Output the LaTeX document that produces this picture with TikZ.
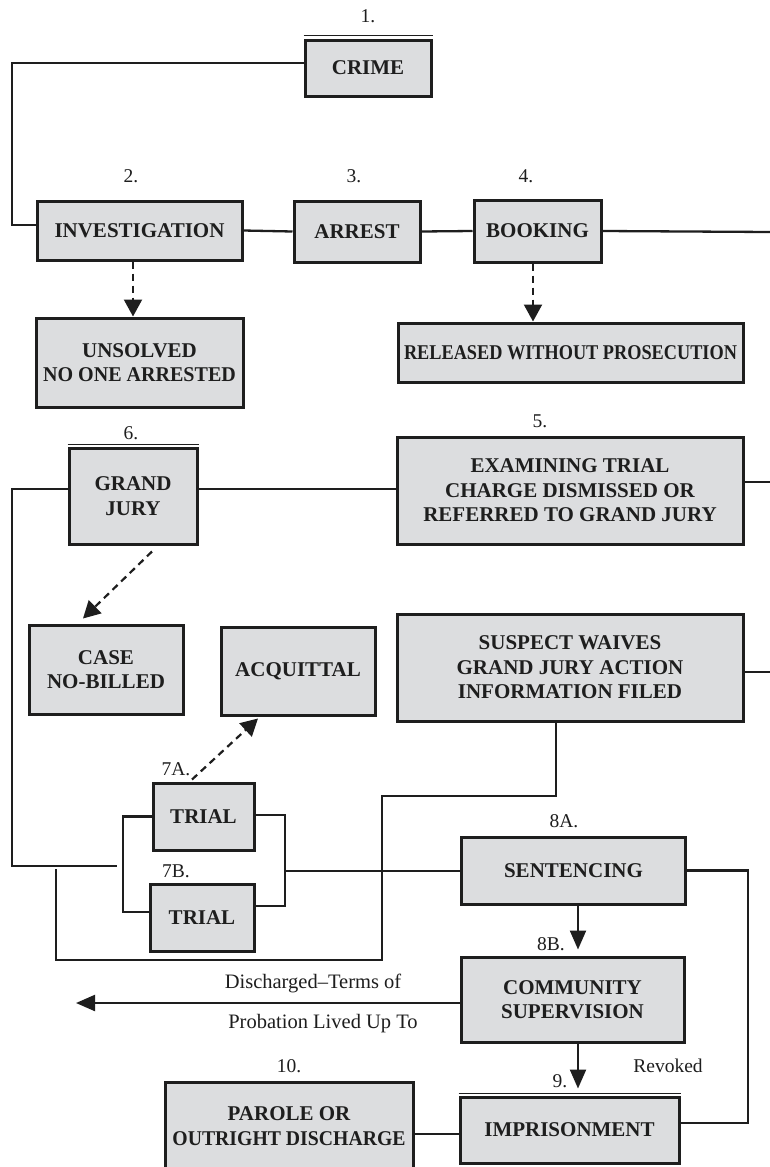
\documentclass[tikz,border=0pt]{standalone}
\usepackage{fontspec}
\setmainfont{Liberation Serif}
\usepackage{graphicx}
\usetikzlibrary{arrows.meta}
\definecolor{boxfill}{RGB}{220,221,223}
\definecolor{ink}{RGB}{30,30,30}
\tikzset{
  box/.style={draw=ink, line width=3pt, fill=boxfill, align=center, inner sep=0pt,
    font=\bfseries\fontsize{21}{24.5}\selectfont, text=ink},
  lab/.style={font=\fontsize{19.5}{22}\selectfont, inner sep=0pt, anchor=base, text=ink},
  conn/.style={draw=ink, line width=2.3pt},
  dasharrow/.style={draw=ink, line width=2.2pt, dash pattern=on 7pt off 5pt,
    -{Triangle[length=17pt,width=18pt]}},
  arr/.style={draw=ink, line width=2.2pt, -{Triangle[length=19pt,width=16pt]}},
  thinline/.style={draw=ink, line width=1pt}
}
\begin{document}
\begin{tikzpicture}[x=1pt,y=-1pt]
\useasboundingbox[fill=white] (0,0) rectangle (770,1167);

% boxes
\node[box, minimum width=126pt, minimum height=56pt] (crime) at (368,68) {CRIME};
\node[box, minimum width=205pt, minimum height=59pt] (invest) at (139.5,230.5) {INVESTIGATION};
\node[box, minimum width=126pt, minimum height=61pt] (arrest) at (357,231.5) {ARREST};
\node[box, minimum width=127pt, minimum height=62pt] (booking) at (537.5,231) {BOOKING};
\node[box, minimum width=207pt, minimum height=89pt] (unsolved) at (139.5,362.5) {UNSOLVED\\\scalebox{0.955}[1]{NO ONE ARRESTED}};
\node[box, minimum width=345pt, minimum height=59pt] (released) at (570.5,352.5) {\scalebox{0.87}[1]{RELEASED WITHOUT PROSECUTION}};
\node[box, minimum width=128pt, minimum height=96pt] (grand) at (133,496) {GRAND\\JURY};
\node[box, minimum width=346pt, minimum height=107pt] (exam) at (570,490.5) {EXAMINING TRIAL\\CHARGE DISMISSED OR\\REFERRED TO GRAND JURY};
\node[box, minimum width=154pt, minimum height=89pt] (case) at (106,669.5) {CASE\\NO-BILLED};
\node[box, minimum width=154pt, minimum height=88pt] (acq) at (298,671) {ACQUITTAL};
\node[box, minimum width=346pt, minimum height=107pt] (suspect) at (570,667.5) {SUSPECT WAIVES\\GRAND JURY ACTION\\INFORMATION FILED};
\node[box, minimum width=101pt, minimum height=67pt] (trialA) at (203.5,816.5) {TRIAL};
\node[box, minimum width=104pt, minimum height=67pt] (trialB) at (202,917.5) {TRIAL};
\node[box, minimum width=224pt, minimum height=67pt] (sent) at (573.5,870.5) {SENTENCING};
\node[box, minimum width=223pt, minimum height=85pt] (comm) at (572.5,999.5) {COMMUNITY\\SUPERVISION};
\node[box, minimum width=219pt, minimum height=66pt] (impr) at (569.5,1130) {IMPRISONMENT};
\node[box, minimum width=248pt, minimum height=88pt] (parole) at (289,1126) {PAROLE OR\\\scalebox{0.94}[1]{OUTRIGHT DISCHARGE}};

% thin doubled top edges
\draw[thinline] ([yshift=3.5pt]crime.north west) -- ([yshift=3.5pt]crime.north east);
\draw[thinline] ([yshift=2.5pt]grand.north west) -- ([yshift=2.5pt]grand.north east);
\draw[thinline] ([yshift=2.5pt]impr.north west) -- ([yshift=2.5pt]impr.north east);

% number labels
\node[lab] (l1) at (368,23) {1.};
\node[lab] (l2) at (131,182) {2.};
\node[lab] (l3) at (354,182) {3.};
\node[lab] (l4) at (526,182) {4.};
\node[lab] (l5) at (540,427) {5.};
\node[lab] (l6) at (131,439) {6.};
\node[lab] (l7a) at (176,775) {7A.};
\node[lab] (l7b) at (176,877) {7B.};
\node[lab] (l8a) at (564,827) {8A.};
\node[lab] (l8b) at (551,950) {8B.};
\node[lab] (l9) at (560,1087) {9.};
\node[lab] (l10) at (289,1072) {10.};
\node[lab] (rev) at (668,1072) {Revoked};
\node[lab, font=\fontsize{20.5}{22}\selectfont] (dis1) at (313,988) {Discharged–Terms of};
\node[lab, font=\fontsize{20.5}{22}\selectfont] (dis2) at (323,1028) {Probation Lived Up To};

% coordinates
\coordinate (cA) at (12,225);
\coordinate (bookR) at (770,232);
\coordinate (ax) at (133,0);
\coordinate (bx) at (533,0);
\coordinate (gL) at (12,866);
\coordinate (gL2) at (117,866);
\coordinate (examR) at (770,482);
\coordinate (suspR) at (770,672);
\coordinate (sx) at (556,0);
\coordinate (s1) at (556,796);
\coordinate (s2) at (382,796);
\coordinate (s3) at (382,960);
\coordinate (s4) at (56,960);
\coordinate (s5) at (56,869);
\coordinate (tl1) at (123,816.5);
\coordinate (tl2) at (123,912);
\coordinate (tr1) at (285,815);
\coordinate (tr2) at (285,906);
\coordinate (tm) at (285,871);
\coordinate (mx) at (578,0);
\coordinate (rr) at (748,1123);
\coordinate (dl) at (76,1003);
\coordinate (py) at (0,1134);

% connectors
\draw[conn] ([yshift=5pt]crime.west) -| (cA) -- (invest.west |- cA);
\draw[conn] (invest.east) -- (arrest.west);
\draw[conn] (arrest.east) -- (booking.west);
\draw[conn] (booking.east) -- (bookR);
\draw[dasharrow] (invest.south -| ax) -- (unsolved.north -| ax);
\draw[dasharrow] (booking.south -| bx) -- (released.north -| bx);
\draw[conn] ([yshift=7pt]grand.east) -- ([yshift=7pt]grand.east -| exam.west);
\draw[conn] ([yshift=7pt]grand.west) -| (gL) -- (gL2);
\draw[conn] ([yshift=8.5pt]exam.east) -- (examR);
\draw[conn] ([yshift=-4.5pt]suspect.east) -- (suspR);
\draw[conn] (suspect.south -| sx) -- (s1) -- (s2) -- (s3) -- (s4) -- (s5);
\draw[dasharrow] ([xshift=19pt,yshift=-6pt]grand.south) -- ([xshift=-23pt,yshift=5pt]case.north);
\draw[dasharrow] ([xshift=-11.5pt,yshift=2pt]trialA.north) -- ([xshift=-40pt,yshift=-2pt]acq.south);
\draw[conn] (trialA.west) -- (tl1) -- (tl2) -- (trialB.west |- tl2);
\draw[conn] (trialA.east |- tr1) -- (tr1) -- (tr2) -- (trialB.east |- tr2);
\draw[conn] (tm) -- (sent.west |- tm);
\draw[arr, shorten >=6pt] (sent.south -| mx) -- (comm.north -| mx);
\draw[conn] (sent.east) -| (rr) -- (impr.east |- rr);
\draw[arr] (comm.west |- dl) -- (dl);
\draw[arr, shorten >=7pt] (comm.south -| mx) -- (impr.north -| mx);
\draw[conn] (parole.east |- py) -- (impr.west |- py);
\end{tikzpicture}
\end{document}
